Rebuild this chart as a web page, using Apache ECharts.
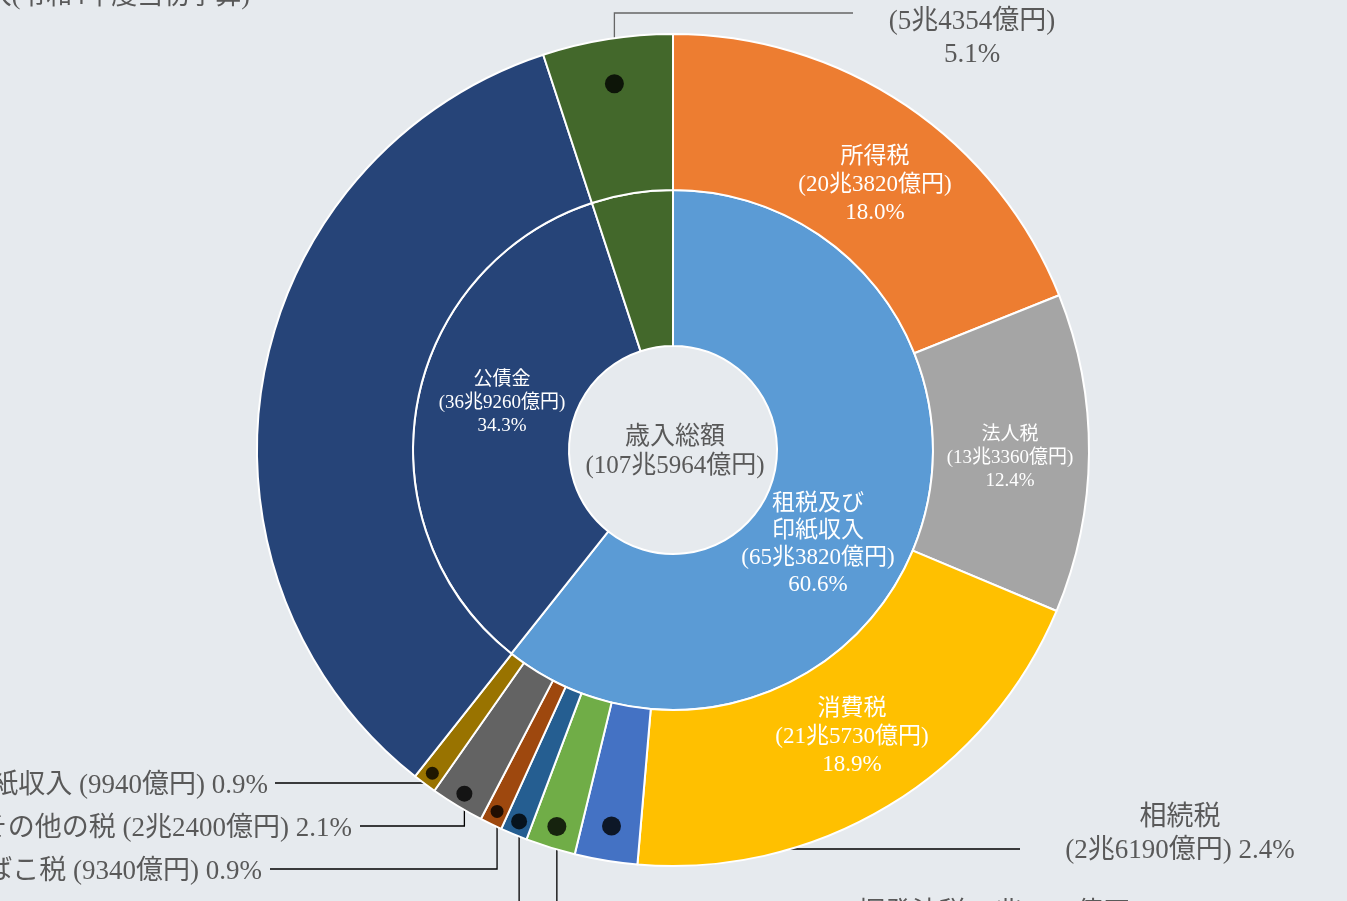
<!DOCTYPE html>
<html lang="ja">
<head>
<meta charset="utf-8">
<title>一般会計歳入(令和4年度当初予算)</title>
<script src="https://cdn.jsdelivr.net/npm/echarts@6/dist/echarts.min.js"></script>
<style>
  html, body { margin: 0; padding: 0; background: #e6eaee; }
  #pie { width: 1347px; height: 901px; }
</style>
</head>
<body>
<div id="pie"></div>
<script>
// 内側の円 (大分類) 単位: 億円
const innerNames = ['租税及び\n印紙収入', '公債金', 'その他収入']
const innerValues = [653820, 369260, 54354]
const innerPercents = ['60.6', '34.3', '5.1']
const innerColors = ['#5b9bd5', '#264478', '#43682b']

// 外側の円 (内訳) 単位: 億円
const outerNames = ['所得税', '法人税', '消費税', '相続税', '揮発油税', '酒税', 'たばこ税', 'その他の税', '印紙収入', '公債金', 'その他収入']
const outerValues = [203820, 133360, 215730, 26190, 20790, 11280, 9340, 22400, 9940, 369260, 54354]
const outerPercents = ['18.0', '12.4', '18.9', '2.4', '1.9', '1.0', '0.9', '2.1', '0.9', '34.3', '5.1']
const outerColors = ['#ed7d31', '#a5a5a5', '#ffc000', '#4472c4', '#70ad47', '#255e91', '#9e480e', '#636363', '#997300', '#264478', '#43682b']

// 歳入総額
const totalName = '歳入総額'
const totalValue = 1075964

// ---- レイアウト (px) ----
const CX = 673
const CY = 450
const R0 = 104
const R1 = 260
const R2 = 416
const FONT = "'Liberation Serif', 'Noto Sans CJK JP', serif"
const GRAY = '#595959'

// ラベル位置 (内側)
const innerSpots = {
    '租税及び\n印紙収入': { x: 818, y: 544, size: 23, lh: 27 },
    '公債金': { x: 502, y: 403, size: 19, lh: 23 }
}

// ラベル位置 (外側)  r: 黒丸の半径位置  dot: 黒丸の大きさ
const outerSpots = {
    '所得税': { x: 875, y: 185, size: 23, lh: 28 },
    '法人税': { x: 1010, y: 458, size: 19, lh: 23 },
    '消費税': { x: 852, y: 737, size: 23, lh: 28 },
    '相続税': { out: 'stack', x: 1180, y: 834, align: 'center', lineY: 849, lineX: 1020, r: 381, dot: 19 },
    '揮発油税': { out: 'line', x: 858, y: 914, align: 'left', lineY: 912, lineX: 850, r: 394, dot: 19 },
    '酒税': { out: 'line', x: 530, y: 962, align: 'left', lineY: 960, lineX: 522, r: 402, dot: 16 },
    'たばこ税': { out: 'line', x: 262, y: 872, align: 'right', lineY: 869, lineX: 270, r: 402, dot: 13 },
    'その他の税': { out: 'line', x: 352, y: 829, align: 'right', lineY: 826, lineX: 360, r: 402, dot: 16 },
    '印紙収入': { out: 'line', x: 268, y: 786, align: 'right', lineY: 783, lineX: 275, r: 403, dot: 13 },
    'その他収入': { out: 'stack', x: 972, y: 22, align: 'center', lineY: 13, lineX: 853, r: 371, dot: 19, lineColor: '#666' }
}

// 億円 → "20兆3820億円"
function yen(v) {
    if (v < 10000) return v + '億円'
    return Math.floor(v / 10000) + '兆' + String(v % 10000).padStart(4, '0') + '億円'
}

// 外側の各扇形の中心角 (度, 上から時計回り)
const outerSum = outerValues.reduce((a, b) => a + b, 0)
const outerMid = []
let acc = 0
outerValues.forEach(v => {
    outerMid.push((acc + v / 2) / outerSum * 360)
    acc += v
})

function dotPoint(index, r) {
    const a = outerMid[index] * Math.PI / 180
    return [CX + r * Math.sin(a), CY - r * Math.cos(a)]
}

// 扇形データ作成
function buildData(names, values, percents, colors, spots) {
    return names.map((name, i) => {
        const spot = spots[name]
        const item = { name: name, value: values[i], itemStyle: { color: colors[i] } }
        if (!spot) {
            item.label = { show: false }
            item.labelLine = { show: false }
        } else if (!spot.out) {
            item.label = {
                position: 'inside',
                color: '#fff',
                fontSize: spot.size,
                lineHeight: spot.lh,
                formatter: `${name}\n(${yen(values[i])})\n${percents[i]}%`
            }
            item.labelLine = { show: false }
        } else {
            const text = spot.out === 'stack'
                ? (name === 'その他収入'
                    ? `${name}\n(${yen(values[i])})\n${percents[i]}%`
                    : `${name}\n(${yen(values[i])}) ${percents[i]}%`)
                : `${name} (${yen(values[i])}) ${percents[i]}%`
            item.label = {
                position: 'outside',
                color: GRAY,
                fontSize: 27,
                lineHeight: 33,
                align: spot.align,
                formatter: text
            }
            item.labelLine = { show: true, lineStyle: { color: spot.lineColor || '#000', width: 1.3 } }
        }
        return item
    })
}

function makeLayout(names, spots) {
    return function (params) {
        const spot = spots[names[params.dataIndex]]
        if (!spot) return {}
        const res = { x: spot.x, y: spot.y, align: spot.align || 'center', verticalAlign: 'middle' }
        if (spot.r) {
            const p = dotPoint(params.dataIndex, spot.r)
            res.labelLinePoints = [p, [p[0], spot.lineY], [spot.lineX, spot.lineY]]
        }
        return res
    }
}

// 黒丸 (極座標の散布図で描く)
const dotData = []
outerNames.forEach((name, i) => {
    const spot = outerSpots[name]
    if (spot && spot.r) {
        dotData.push({ value: [spot.r, outerMid[i]], symbolSize: spot.dot })
    }
})

const dom = document.querySelector('#pie')
const myChart = echarts.init(dom, null, { renderer: 'canvas' })

const option = {
    backgroundColor: '#e6eaee',
    animation: false,
    textStyle: { fontFamily: FONT },
    title: {
        text: `${totalName}\n(${yen(totalValue)})`,
        left: 670,
        top: 447,
        textAlign: 'center',
        textVerticalAlign: 'middle',
        textStyle: { color: GRAY, fontSize: 25, lineHeight: 29, fontWeight: 'normal', fontFamily: FONT }
    },
    graphic: [{
        type: 'text',
        left: null,
        style: {
            text: '一般会計歳入(令和4年度当初予算)',
            x: 250,
            y: -3,
            align: 'right',
            verticalAlign: 'middle',
            fill: GRAY,
            font: `26px ${FONT}`
        }
    }],
    polar: { center: [CX, CY], radius: R2 },
    angleAxis: { type: 'value', min: 0, max: 360, startAngle: 90, clockwise: true, show: false },
    radiusAxis: { type: 'value', min: 0, max: R2, show: false },
    series: [
        {
            name: '大分類',
            type: 'pie',
            center: [CX, CY],
            radius: [R0, R1],
            startAngle: 90,
            avoidLabelOverlap: false,
            silent: true,
            itemStyle: { borderColor: '#fff', borderWidth: 2 },
            label: { fontFamily: FONT },
            labelLayout: makeLayout(innerNames, innerSpots),
            data: buildData(innerNames, innerValues, innerPercents, innerColors, innerSpots)
        },
        {
            name: '内訳',
            type: 'pie',
            center: [CX, CY],
            radius: [R1, R2],
            startAngle: 90,
            avoidLabelOverlap: false,
            silent: true,
            itemStyle: { borderColor: '#fff', borderWidth: 2 },
            label: { fontFamily: FONT, overflow: 'none' },
            labelLine: { smooth: false },
            labelLayout: makeLayout(outerNames, outerSpots),
            data: buildData(outerNames, outerValues, outerPercents, outerColors, outerSpots)
        },
        {
            name: '黒丸',
            type: 'scatter',
            coordinateSystem: 'polar',
            symbol: 'circle',
            itemStyle: { color: '#000' },
            silent: true,
            z: 5,
            data: dotData
        }
    ]
}
myChart.setOption(option)
</script>
</body>
</html>
